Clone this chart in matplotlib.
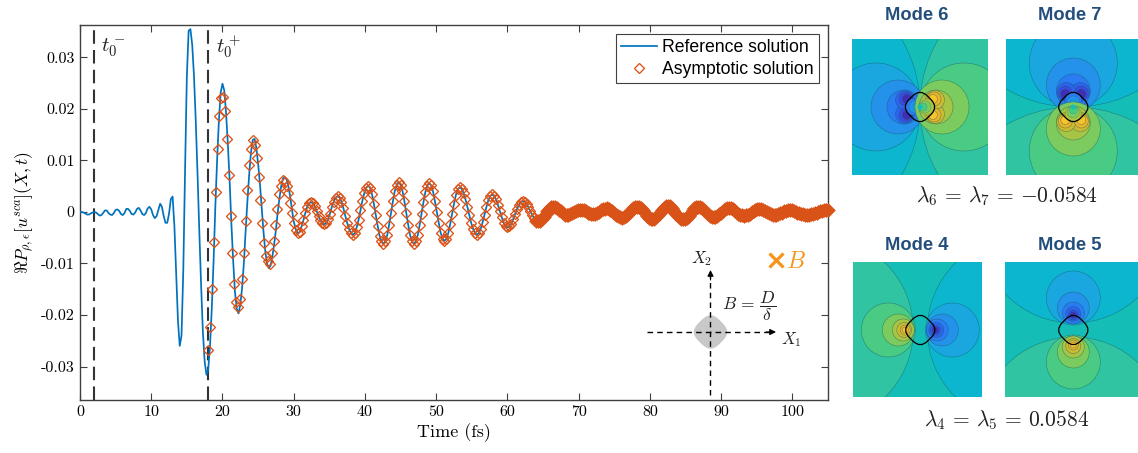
import numpy as np
import matplotlib
matplotlib.use('Agg')
from matplotlib import pyplot as plt
from matplotlib.patches import Circle, PathPatch
from matplotlib.path import Path

plt.rcParams['mathtext.fontset'] = 'cm'
plt.rcParams['font.family'] = ['Liberation Sans', 'DejaVu Sans']

# reference solution, 0 to 30 fs every 0.25 fs (after that it sits under the markers)
ref_early = [0.0000, 0.0000, -0.0001, -0.0003, -0.0005, -0.0005, -0.0003, -0.0001, 0.0000, -0.0001,
             -0.0004, -0.0007, -0.0006, -0.0002, 0.0003, 0.0003, -0.0002, -0.0005, -0.0006, -0.0002,
             0.0004, 0.0005, 0.0002, -0.0004, -0.0006, -0.0002, 0.0006, 0.0006, 0.0002, -0.0004,
             -0.0005, -0.0001, 0.0006, 0.0008, 0.0003, -0.0004, -0.0006, -0.0002, 0.0007, 0.0010,
             0.0005, -0.0006, -0.0012, -0.0008, 0.0004, 0.0016, 0.0010, -0.0008, -0.0021, -0.0021,
             -0.0003, 0.0025, 0.0030, -0.0027, -0.0120, -0.0211, -0.0260, -0.0240, -0.0113, 0.0083,
             0.0264, 0.0352, 0.0355, 0.0325, 0.0264, 0.0177, 0.0073, -0.0038, -0.0142, -0.0233,
             -0.0290, -0.0316, -0.0306, -0.0260, -0.0187, -0.0096, 0.0011, 0.0102, 0.0178, 0.0232,
             0.0249, 0.0236, 0.0193, 0.0133, 0.0062, -0.0023, -0.0094, -0.0155, -0.0188, -0.0197,
             -0.0180, -0.0148, -0.0100, -0.0037, 0.0021, 0.0073, 0.0116, 0.0140, 0.0142, 0.0125,
             0.0094, 0.0056, 0.0009, -0.0037, -0.0075, -0.0100, -0.0109, -0.0104, -0.0087, -0.0063,
             -0.0035, -0.0001, 0.0027, 0.0051, 0.0065, 0.0068, 0.0063, 0.0050, 0.0030, 0.0005, -0.0019]

# asymptotic solution, 18 to 32.41 fs every 0.262 fs
asym_early = [-0.0268, -0.0223, -0.0149, -0.0058, 0.0038, 0.0122, 0.0186, 0.0221, 0.0224, 0.0196,
              0.0142, 0.0071, -0.0008, -0.0080, -0.0139, -0.0174, -0.0184, -0.0168, -0.0131, -0.0079,
              -0.0017, 0.0042, 0.0092, 0.0122, 0.0139, 0.0131, 0.0104, 0.0067, 0.0023, -0.0022,
              -0.0061, -0.0085, -0.0096, -0.0101, -0.0080, -0.0056, -0.0025, 0.0006, 0.0034, 0.0051,
              0.0062, 0.0059, 0.0050, 0.0036, 0.0018, -0.0002, -0.0021, -0.0035, -0.0041, -0.0039,
              -0.0028, -0.0016, -0.0002, 0.0010, 0.0017, 0.0019]

# asymptotic solution, rest of the record up to 105 fs
asym_late = [0.0017, 0.0011, 0.0002, -0.0007, -0.0016, -0.0022, -0.0024,
             -0.0021, -0.0014, -0.0003, 0.0010, 0.0020, 0.0028, 0.0031,
             0.0028, 0.0020, 0.0008, -0.0007, -0.0021, -0.0033, -0.0041, -0.0044,
             -0.0041, -0.0030, -0.0015, 0.0004, 0.0022, 0.0037, 0.0047, 0.0051,
             0.0047, 0.0035, 0.0016, -0.0006, -0.0027, -0.0046, -0.0057, -0.0062,
             -0.0057, -0.0045, -0.0025, -0.0002, 0.0021, 0.0041, 0.0053, 0.0058,
             0.0053, 0.0041, 0.0021, -0.0002, -0.0025, -0.0045, -0.0057, -0.0062,
             -0.0057, -0.0045, -0.0025, -0.0003, 0.0019, 0.0039, 0.0051, 0.0056,
             0.0052, 0.0040, 0.0021, 0.0000, -0.0021, -0.0040, -0.0052, -0.0056,
             -0.0052, -0.0041, -0.0024, -0.0004, 0.0016, 0.0033, 0.0044, 0.0048,
             0.0045, 0.0037, 0.0025, 0.0010, -0.0006, -0.0021, -0.0033, -0.0041, -0.0044,
             -0.0041, -0.0033, -0.0020, -0.0005, 0.0010, 0.0023, 0.0031, 0.0034,
             0.0031, 0.0025, 0.0014, 0.0002, -0.0010, -0.0021, -0.0027, -0.0030,
             -0.0028, -0.0023, -0.0014, -0.0004, 0.0005, 0.0014, 0.0019, 0.0021,
             0.0020, 0.0015, 0.0009, 0.0002, -0.0006, -0.0012, -0.0017, -0.0018,
             -0.0017, -0.0014, -0.0010, -0.0004, 0.0001, 0.0006, 0.0009, 0.0010,
             0.0009, 0.0007, 0.0004, 0.0001, -0.0002, -0.0005, -0.0006,
             -0.0005, -0.0004, -0.0002, 0.0000, 0.0002, 0.0003, 0.0004,
             0.0004, 0.0003, 0.0001, -0.0001, -0.0002, -0.0003, -0.0004,
             -0.0003, -0.0002, 0.0000, 0.0003, 0.0005, 0.0006, 0.0007,
             0.0006, 0.0004, 0.0001, -0.0002, -0.0005, -0.0008, -0.0010, -0.0011,
             -0.0010, -0.0007, -0.0004, 0.0000, 0.0004, 0.0007, 0.0010, 0.0010,
             0.0009, 0.0007, 0.0003, -0.0002, -0.0007, -0.0011, -0.0013, -0.0014,
             -0.0013, -0.0010, -0.0006, -0.0001, 0.0004, 0.0008, 0.0011, 0.0012,
             0.0011, 0.0008, 0.0004, -0.0001, -0.0006, -0.0010, -0.0013, -0.0014,
             -0.0013, -0.0011, -0.0007, -0.0002, 0.0003, 0.0007, 0.0009, 0.0010,
             0.0009, 0.0007, 0.0004, 0.0000, -0.0004, -0.0007, -0.0009, -0.0010,
             -0.0009, -0.0007, -0.0004, -0.0001, 0.0002, 0.0005, 0.0007, 0.0008,
             0.0007, 0.0005, 0.0003, 0.0000, -0.0003, -0.0005, -0.0006, -0.0007,
             -0.0006, -0.0005, -0.0003, 0.0000, 0.0002, 0.0004, 0.0005, 0.0006,
             0.0005, 0.0004, 0.0002, 0.0000, -0.0002, -0.0004, -0.0005, -0.0005,
             -0.0005, -0.0004, -0.0002, -0.0001, 0.0001, 0.0002, 0.0003, 0.0003,
             0.0003, 0.0002, 0.0000, -0.0001, -0.0002, -0.0003, -0.0004, -0.0005,
             -0.0005, -0.0005, -0.0004, -0.0003, -0.0002, -0.0001, 0.0000, 0.0001, 0.0002, 0.0003, 0.0003, 0.0003]

x_ticks = [0, 10, 20, 30, 40, 50, 60, 70, 80, 90, 100]
y_ticks = [-0.03, -0.02, -0.01, 0, 0.01, 0.02, 0.03]
y_labels = ['-0.03', '-0.02', '-0.01', '0', '0.01', '0.02', '0.03']
t0_lines = [2, 18]

# contour colours, outer band first
blues = ['#0BB6CE', '#1AA7DF', '#2491EA', '#2A7CF2', '#2B65EE', '#3A4CDD', '#3E2FB5']
greens = ['#30C4A3', '#4ACB83', '#7CCB5E', '#A7C544', '#CBBB33', '#E8B52B', '#F6C52B']
mid_teal = '#14BDB5'

# bands as (offset along the lobe axis, sideways offset, radius), pixels from the panel centre
lobes_67 = [(135, 0, 135), (44, 0, 44), (22, 0, 27), (16, 0, 17),
            (15, 7, 9.5), (14, 8, 7), (13, 8, 4.5)]
lobes_45 = [(101, 0, 94), (32, 0, 27), (22, 0, 16), (17, 0, 11),
            (16, 0, 7.5), (15, 0, 5), (15, 0, 3)]

# bands inside the particle for modes 6 and 7: (offset, radius, colour index)
inner_67 = [(7, 8, 3), (5, 6, 2), (3, 4, 1)]

fig = plt.figure(figsize=(11.38, 4.53), dpi=100)
W, H = 1138.0, 453.0


def px_axes(x0, y0, x1, y1, **kw):
    # axes placed by pixel box, with data coordinates equal to image pixels
    a = fig.add_axes([x0 / W, 1 - y1 / H, (x1 - x0) / W, (y1 - y0) / H], **kw)
    a.set_xlim(x0, x1)
    a.set_ylim(y1, y0)
    return a


def rounded_diamond(cx, cy, r, f=0.4):
    corners = [(cx - r, cy), (cx, cy - r), (cx + r, cy), (cx, cy + r)]
    verts, codes = [], []
    for i in range(4):
        c = np.array(corners[i])
        prev = np.array(corners[i - 1])
        nxt = np.array(corners[(i + 1) % 4])
        verts += [c + f * (prev - c), c, c + f * (nxt - c)]
        codes += [Path.MOVETO if i == 0 else Path.LINETO, Path.CURVE3, Path.CURVE3]
    verts.append(verts[0])
    codes.append(Path.CLOSEPOLY)
    return Path(verts, codes)


def draw_panel(box, centre, vertical, sign, lobes, inner):
    # sign=1 puts the blue lobe on the negative side of the axis
    a = px_axes(*box)
    a.axis('off')
    a.add_patch(plt.Rectangle((box[0], box[1]), box[2] - box[0], box[3] - box[1], fc=mid_teal, ec='none'))

    def at(along, side):
        if vertical:
            return (centre[0] + side, centre[1] + along)
        return (centre[0] + along, centre[1] + side)

    for colours, s in ((blues, -sign), (greens, sign)):
        for (along, side, r), col in zip(lobes, colours):
            for sd in ((side, -side) if side else (0,)):
                a.add_patch(Circle(at(s * along, sd), r, fc=col, ec=(0.1, 0.3, 0.35, 0.55), lw=0.4))
        for along, r, idx in inner:
            a.add_patch(Circle(at(s * along, 0), r, fc=colours[idx], ec=(0.1, 0.3, 0.35, 0.4), lw=0.3))
    if inner:
        a.add_patch(Circle(centre, 2.5, fc=mid_teal, ec='none'))
    a.add_patch(PathPatch(rounded_diamond(centre[0], centre[1], 18.4), fc='none', ec='black', lw=0.9))
    return a


# main plot
ax = px_axes(80, 25, 828, 400)
asym_t = np.concatenate([18 + 0.262 * np.arange(len(asym_early)),
                         np.linspace(32.41 + 0.268, 105, len(asym_late))])
asym_y = np.array(asym_early + asym_late)
ref_t = np.arange(len(ref_early)) * 0.25
late = asym_t > ref_t[-1]
ax.plot(np.concatenate([ref_t, asym_t[late]]), np.concatenate([ref_early, asym_y[late]]),
        color='#0072BD', lw=1.25, label='Reference solution', zorder=3)
# past about 64 fs the markers merge into a solid band
dense = asym_t > 64
ax.plot(asym_t[~dense], asym_y[~dense], ls='none', marker='D', ms=5.5, mfc='none', mec='#D95319', mew=0.95,
        clip_on=False, label='Asymptotic solution', zorder=4)
ax.plot(asym_t[dense], asym_y[dense], ls='none', marker='D', ms=5.0, mfc='none', mec='#D95319', mew=2.4,
        clip_on=False, zorder=4)
for t in t0_lines:
    ax.axvline(t, color='#333333', lw=1.5, dashes=(6.5, 3), zorder=2)
ax.set_xlim(0, 105)
ax.set_ylim(-0.0365, 0.0363)
ax.set_xticks(x_ticks)
ax.set_xticklabels([str(v) for v in x_ticks], family='cmr10', fontsize=11.5)
ax.set_yticks(y_ticks)
ax.set_yticklabels(y_labels, family='cmr10', fontsize=11.5)
ax.tick_params(direction='in', top=True, right=True, length=5, width=0.8, color='#404040', pad=4)
for s in ax.spines.values():
    s.set_color('#404040')
    s.set_linewidth(1.0)
ax.set_xlabel('Time (fs)', family='cmr10', fontsize=13, labelpad=3)
ax.set_ylabel(r'$\Re P_{\rho,\epsilon}[u^{sca}](X,t)$', fontsize=12.5, labelpad=3)
leg = ax.legend(loc='upper right', bbox_to_anchor=(0.9875, 0.9755), fontsize=12.7, fancybox=False, framealpha=1,
                edgecolor='#404040', borderpad=0.3, labelspacing=0.25, handlelength=2.05, handletextpad=0.25,
                borderaxespad=0)
leg.get_frame().set_linewidth(0.8)

# overlay for annotations, in image pixels
ov = px_axes(0, 0, W, H)
ov.axis('off')
ov.patch.set_alpha(0)
ov.text(113, 48, r'$t_0^-$', fontsize=15, ha='center', va='center', color='#222222')
ov.text(228, 47, r'$t_0^+$', fontsize=15, ha='center', va='center', color='#222222')

ov.add_patch(PathPatch(rounded_diamond(710.5, 332, 20.9), fc='#C8C8C8', ec='none'))
ov.plot([647, 770], [332, 332], color='black', lw=1, dashes=(4, 3))
ov.plot([710.5, 710.5], [395, 276], color='black', lw=1, dashes=(4, 3))
ov.annotate('', xy=(776, 332), xytext=(766, 332), arrowprops=dict(arrowstyle='-|>', color='black', lw=0.8, shrinkA=0, shrinkB=0, mutation_scale=9))
ov.annotate('', xy=(710.5, 270), xytext=(710.5, 280), arrowprops=dict(arrowstyle='-|>', color='black', lw=0.8, shrinkA=0, shrinkB=0, mutation_scale=9))
ov.text(791, 340, r'$X_1$', fontsize=12, ha='center', va='center', color='#222222')
ov.text(702, 259, r'$X_2$', fontsize=12, ha='center', va='center', color='#222222')
ov.text(749, 306, r'$B\,=\,\dfrac{D}{\delta}$', fontsize=12.5, ha='center', va='center', color='#222222')
ov.plot([776], [260], marker='x', ms=9.5, mew=2.3, color='#F7941D', ls='none')
ov.text(796, 262, r'$B$', fontsize=17, ha='center', va='center', color='#F7941D')

# contour panels
draw_panel((852, 39, 988, 175), (920, 107), False, 1, lobes_67, inner_67)
draw_panel((1006, 39, 1138, 175), (1073.3, 107), True, 1, lobes_67, inner_67)
draw_panel((853, 262, 982, 397), (920.3, 330), False, -1, lobes_45, [])
draw_panel((1005, 262, 1138, 397), (1073.3, 330), True, 1, lobes_45, [])

titles = ['Mode 6', 'Mode 7', 'Mode 4', 'Mode 5']
title_x = [917, 1070, 917, 1070]
title_y = [16, 16, 246, 246]
for s, x, y in zip(titles, title_x, title_y):
    ov.text(x, y, s, fontsize=13.2, fontweight='bold', color='#234E7C', ha='center', va='center')
ov.text(1007, 196, r'$\lambda_6\,=\,\lambda_7\,=\,{-}0.0584$', fontsize=15.5, ha='center', va='center', color='#222222')
ov.text(1007, 420, r'$\lambda_4\,=\,\lambda_5\,=\,0.0584$', fontsize=15.5, ha='center', va='center', color='#222222')

fig.savefig('out.png', dpi=100)
